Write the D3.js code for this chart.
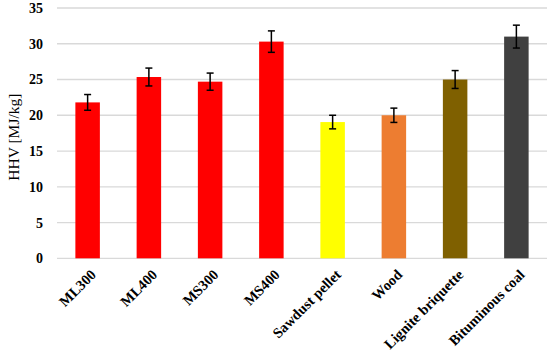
<!DOCTYPE html>
<html>
<head>
<meta charset="utf-8">
<script src="https://cdn.jsdelivr.net/npm/d3@7"></script>
<style>
  body { margin: 0; background: #fff; }
  text { font-family: "Liberation Serif", "DejaVu Serif", serif; }
</style>
</head>
<body>
<div id="chart"></div>
<script>
const width = 550,
height = 353;

// chart data
const fuels = ["ML300", "ML400", "MS300", "MS400", "Sawdust pellet", "Wood", "Lignite briquette", "Bituminous coal"]
const hhv = [21.8, 25.35, 24.7, 30.3, 19.05, 20.0, 25.0, 31.0]
const hhvErr = [1.1, 1.25, 1.2, 1.5, 0.95, 1.0, 1.25, 1.6]
const barColors = ["#ff0000", "#ff0000", "#ff0000", "#ff0000", "#ffff00", "#ed7d31", "#7f6000", "#404040"]
const yTicks = [0, 5, 10, 15, 20, 25, 30, 35]

const margin = {top: 8, right: 3, bottom: 95, left: 57}

let svg = d3.select("#chart").append("svg")
  .attr("width", width)
  .attr("height", height)

let x = d3.scaleBand()
  .domain(fuels)
  .range([margin.left, width - margin.right])
  .paddingInner(0.6)
  .paddingOuter(0.3)

let y = d3.scaleLinear()
  .domain([0, 35])
  .range([height - margin.bottom + 0.3, margin.top])

// gridlines
svg.append("g")
  .selectAll("line")
  .data(yTicks)
  .join("line")
  .attr("x1", margin.left)
  .attr("x2", width - margin.right)
  .attr("y1", d => y(d))
  .attr("y2", d => y(d))
  .attr("stroke", "#d9d9d9")
  .attr("stroke-width", 1.3)

// y axis labels
let yAxis = svg.append("g")
  .attr("transform", "translate(" + margin.left + ",0)")
  .call(d3.axisLeft(y).tickValues(yTicks).tickSize(0).tickPadding(14))

yAxis.select(".domain").remove()
yAxis.selectAll("text")
  .attr("font-family", "Liberation Serif")
  .attr("font-size", 14)
  .attr("font-weight", "bold")
  .attr("fill", "#000")

// bars
let bars = svg.append("g")
  .selectAll("rect")
  .data(fuels)
  .join("rect")
  .attr("x", d => x(d))
  .attr("width", x.bandwidth())
  .attr("y", (d, i) => y(hhv[i]))
  .attr("height", (d, i) => y(0) - y(hhv[i]))
  .attr("fill", (d, i) => barColors[i])

// error bars
let errs = svg.append("g")
  .attr("stroke", "#000")
  .attr("stroke-width", 1.5)
  .selectAll("g")
  .data(fuels)
  .join("g")
  .attr("transform", d => "translate(" + (x(d) + x.bandwidth() / 2) + ",0)")

errs.append("line")
  .attr("y1", (d, i) => y(hhv[i] + hhvErr[i]))
  .attr("y2", (d, i) => y(hhv[i] - hhvErr[i]))
errs.append("line")
  .attr("x1", -3.5).attr("x2", 3.5)
  .attr("y1", (d, i) => y(hhv[i] + hhvErr[i]))
  .attr("y2", (d, i) => y(hhv[i] + hhvErr[i]))
errs.append("line")
  .attr("x1", -3.5).attr("x2", 3.5)
  .attr("y1", (d, i) => y(hhv[i] - hhvErr[i]))
  .attr("y2", (d, i) => y(hhv[i] - hhvErr[i]))

// x labels, rotated
svg.append("g")
  .selectAll("text")
  .data(fuels)
  .join("text")
  .attr("transform", d => "translate(" + (x(d) + x.bandwidth() / 2 + 2) + "," + (y(0) + 10) + ") rotate(-45)")
  .attr("text-anchor", "end")
  .attr("dy", "0.71em")
  .attr("font-size", 14.5)
  .attr("font-weight", "bold")
  .text(d => d)

// y title
svg.append("text")
  .attr("transform", "translate(14," + ((margin.top + y(0)) / 2 + 4) + ") rotate(-90)")
  .attr("text-anchor", "middle")
  .attr("dy", "0.35em")
  .attr("font-size", 15.5)
  .text("HHV [MJ/kg]")
</script>
</body>
</html>
